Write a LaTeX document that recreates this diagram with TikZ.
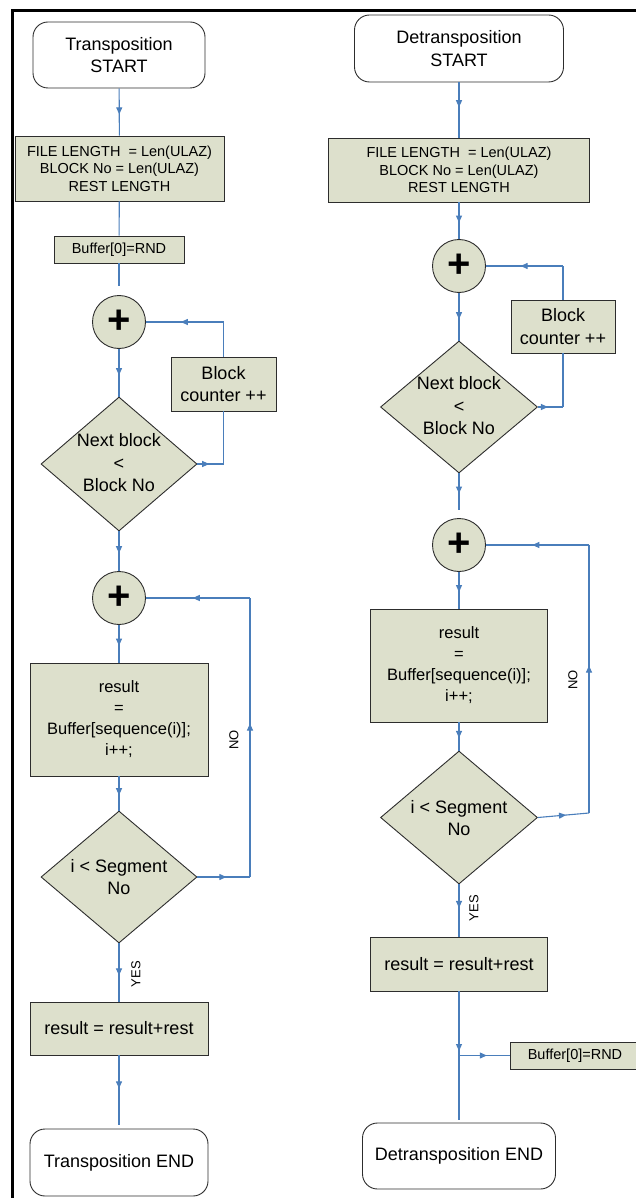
\documentclass[tikz,border=0pt]{standalone}
\usepackage{fontspec}
\setmainfont{Liberation Sans}
\usetikzlibrary{shapes.geometric,arrows.meta,decorations.markings}
\definecolor{boxfill}{RGB}{221,224,204}
\definecolor{flowblue}{RGB}{74,126,187}
\definecolor{edgegray}{RGB}{45,45,45}
\begin{document}
\begin{tikzpicture}[x=1pt,y=-1pt,
  big/.style={font=\fontsize{18}{22.5}\selectfont},
  proc/.style={draw=edgegray, fill=boxfill, line width=0.9pt, inner sep=0pt, align=center},
  smallproc/.style={proc, font=\fontsize{14.5}{17.5}\selectfont},
  resproc/.style={proc, font=\fontsize{16.5}{21}\selectfont},
  bigproc/.style={proc, big},
  term/.style={draw=edgegray, fill=white, line width=0.9pt, rounded corners=15pt, inner sep=0pt, align=center, big},
  junc/.style={circle, draw=edgegray, fill=boxfill, line width=0.9pt, inner sep=0pt, minimum size=53pt, font=\fontsize{40}{40}\selectfont\bfseries},
  dia/.style={diamond, draw=edgegray, fill=boxfill, line width=0.9pt, inner sep=0pt},
  diatext/.style={align=center, big, inner sep=0pt},
  lbl/.style={font=\fontsize{13}{15}\selectfont, inner sep=0pt, rotate=90},
  flow/.style={draw=flowblue, line width=1.1pt},
  midarrow/.style={postaction={decorate,decoration={markings,mark=at position #1 with {\arrow[flowblue]{Triangle[length=7pt,width=6pt]}}}}},
  midarrow/.default=0.55
]
\useasboundingbox (0,0) rectangle (636,1198);
% frame
\draw[line width=3pt] (12,1198) -- (12,10.5) -- (636,10.5);

% ---------- left column ----------
\node[term, minimum width=172pt, minimum height=66pt] (sL) at (119,55) {Transposition\\START};
\node[smallproc, minimum width=209pt, minimum height=65pt] (b1L) at (119.5,168.5) {FILE LENGTH\ \ = Len(ULAZ)\\BLOCK No = Len(ULAZ)\\REST LENGTH};
\node[smallproc, minimum width=130pt, minimum height=27pt] (bufL) at (119,249.5) {Buffer[0]=RND};
\node[junc] (c1L) at (119,322) {+};
\node[dia, minimum width=156pt, minimum height=134pt] (d1L) at (119,464) {};
\node[diatext] (t1L) at (119,463) {Next block\\<\\Block No};
\node[bigproc, minimum width=105pt, minimum height=54pt] (bcL) at (223.5,384) {Block\\counter ++};
\node[junc] (c2L) at (119,598) {+};
\node[resproc, minimum width=178pt, minimum height=113pt] (rL) at (119,719.5) {result\\=\\Buffer[sequence(i)];\\i++;};
\node[dia, minimum width=156pt, minimum height=132pt] (d2L) at (119,877) {};
\node[diatext] (t2L) at (119,877) {i < Segment\\No};
\node[bigproc, minimum width=178pt, minimum height=53pt] (r2L) at (119,1028.5) {result = result+rest};
\node[term, minimum width=178pt, minimum height=67pt] (eL) at (119,1162.5) {Transposition END};

\coordinate (l1a) at (223.5,464);
\coordinate (l1b) at (223.5,322);
\coordinate (n1L) at (250,877);
\coordinate (n2L) at (250,598);

\draw[flow, midarrow] (sL) -- (b1L);
\draw[flow] (b1L) -- (bufL);
\draw[flow, shorten >=9pt] (bufL) -- (c1L);
\draw[flow, midarrow] (c1L) -- (d1L);
\draw[flow, midarrow=0.45] (d1L.east) -- (l1a);
\draw[flow] (l1a) -- (bcL);
\draw[flow] (bcL) -- (l1b);
\draw[flow, midarrow] (l1b) -- (c1L.east);
\draw[flow, midarrow] (d1L) -- (c2L);
\draw[flow, midarrow] (c2L) -- (rL);
\draw[flow, midarrow] (rL) -- (d2L);
\draw[flow, midarrow] (d2L.east) -- (n1L);
\draw[flow, midarrow] (n1L) -- (n2L);
\draw[flow, midarrow] (n2L) -- (c2L.east);
\draw[flow, midarrow] (d2L) -- (r2L);
\draw[flow, midarrow=0.45, shorten >=4pt] (r2L) -- (eL);
\node[lbl] (noL) at (234,740) {NO};
\node[lbl] (yesL) at (136,974) {YES};

% ---------- right column ----------
\node[term, minimum width=209pt, minimum height=67pt] (sR) at (459,48.5) {Detransposition\\START};
\node[smallproc, minimum width=261pt, minimum height=64pt] (b1R) at (459,170) {FILE LENGTH\ \ = Len(ULAZ)\\BLOCK No = Len(ULAZ)\\REST LENGTH};
\node[junc] (c1R) at (459,266) {+};
\node[dia, minimum width=157pt, minimum height=132pt] (d1R) at (459,407) {};
\node[diatext] (t1R) at (459,406) {Next block\\<\\Block No};
\node[bigproc, minimum width=104pt, minimum height=53pt] (bcR) at (563,326.5) {Block\\counter ++};
\node[junc] (c2R) at (459,545) {+};
\node[resproc, minimum width=177pt, minimum height=113pt] (rR) at (459,665.5) {result\\=\\Buffer[sequence(i)];\\i++;};
\node[dia, minimum width=157pt, minimum height=133pt] (d2R) at (459,817.5) {};
\node[diatext] (t2R) at (459,818) {i < Segment\\No};
\node[bigproc, minimum width=177pt, minimum height=54pt] (r2R) at (459,964) {result = result+rest};
\node[smallproc, minimum width=130pt, minimum height=27pt] (bufR) at (575,1055.5) {Buffer[0]=RND};
\node[term, minimum width=193pt, minimum height=66pt] (eR) at (459,1156) {Detransposition END};

\coordinate (m1R) at (563,407);
\coordinate (m2R) at (563,266);
\coordinate (n1R) at (589,813);
\coordinate (n2R) at (589,545);
\coordinate (jR) at (459,1055.5);

\draw[flow, midarrow=0.45] (sR) -- (b1R);
\draw[flow, midarrow] (b1R) -- (c1R);
\draw[flow, midarrow] (c1R) -- (d1R);
\draw[flow, midarrow=0.4] (d1R.east) -- (m1R);
\draw[flow] (m1R) -- (bcR);
\draw[flow] (bcR) -- (m2R);
\draw[flow, midarrow] (m2R) -- (c1R.east);
\draw[flow, midarrow=0.45, shorten >=8pt] (d1R) -- (c2R);
\draw[flow, midarrow] (c2R) -- (rR);
\draw[flow, midarrow] (rR) -- (d2R);
\draw[flow, midarrow] (d2R.east) -- (n1R);
\draw[flow, midarrow] (n1R) -- (n2R);
\draw[flow, midarrow] (n2R) -- (c2R.east);
\draw[flow, midarrow=0.45] (d2R) -- (r2R);
\draw[flow, midarrow=0.93] (r2R) -- (jR);
\draw[flow, shorten >=3pt] (jR) -- (eR);
\draw[flow, midarrow=0.55] (jR) -- (bufR);
\node[lbl] (noR) at (573,680) {NO};
\node[lbl] (yesR) at (474,908) {YES};
\end{tikzpicture}
\end{document}
